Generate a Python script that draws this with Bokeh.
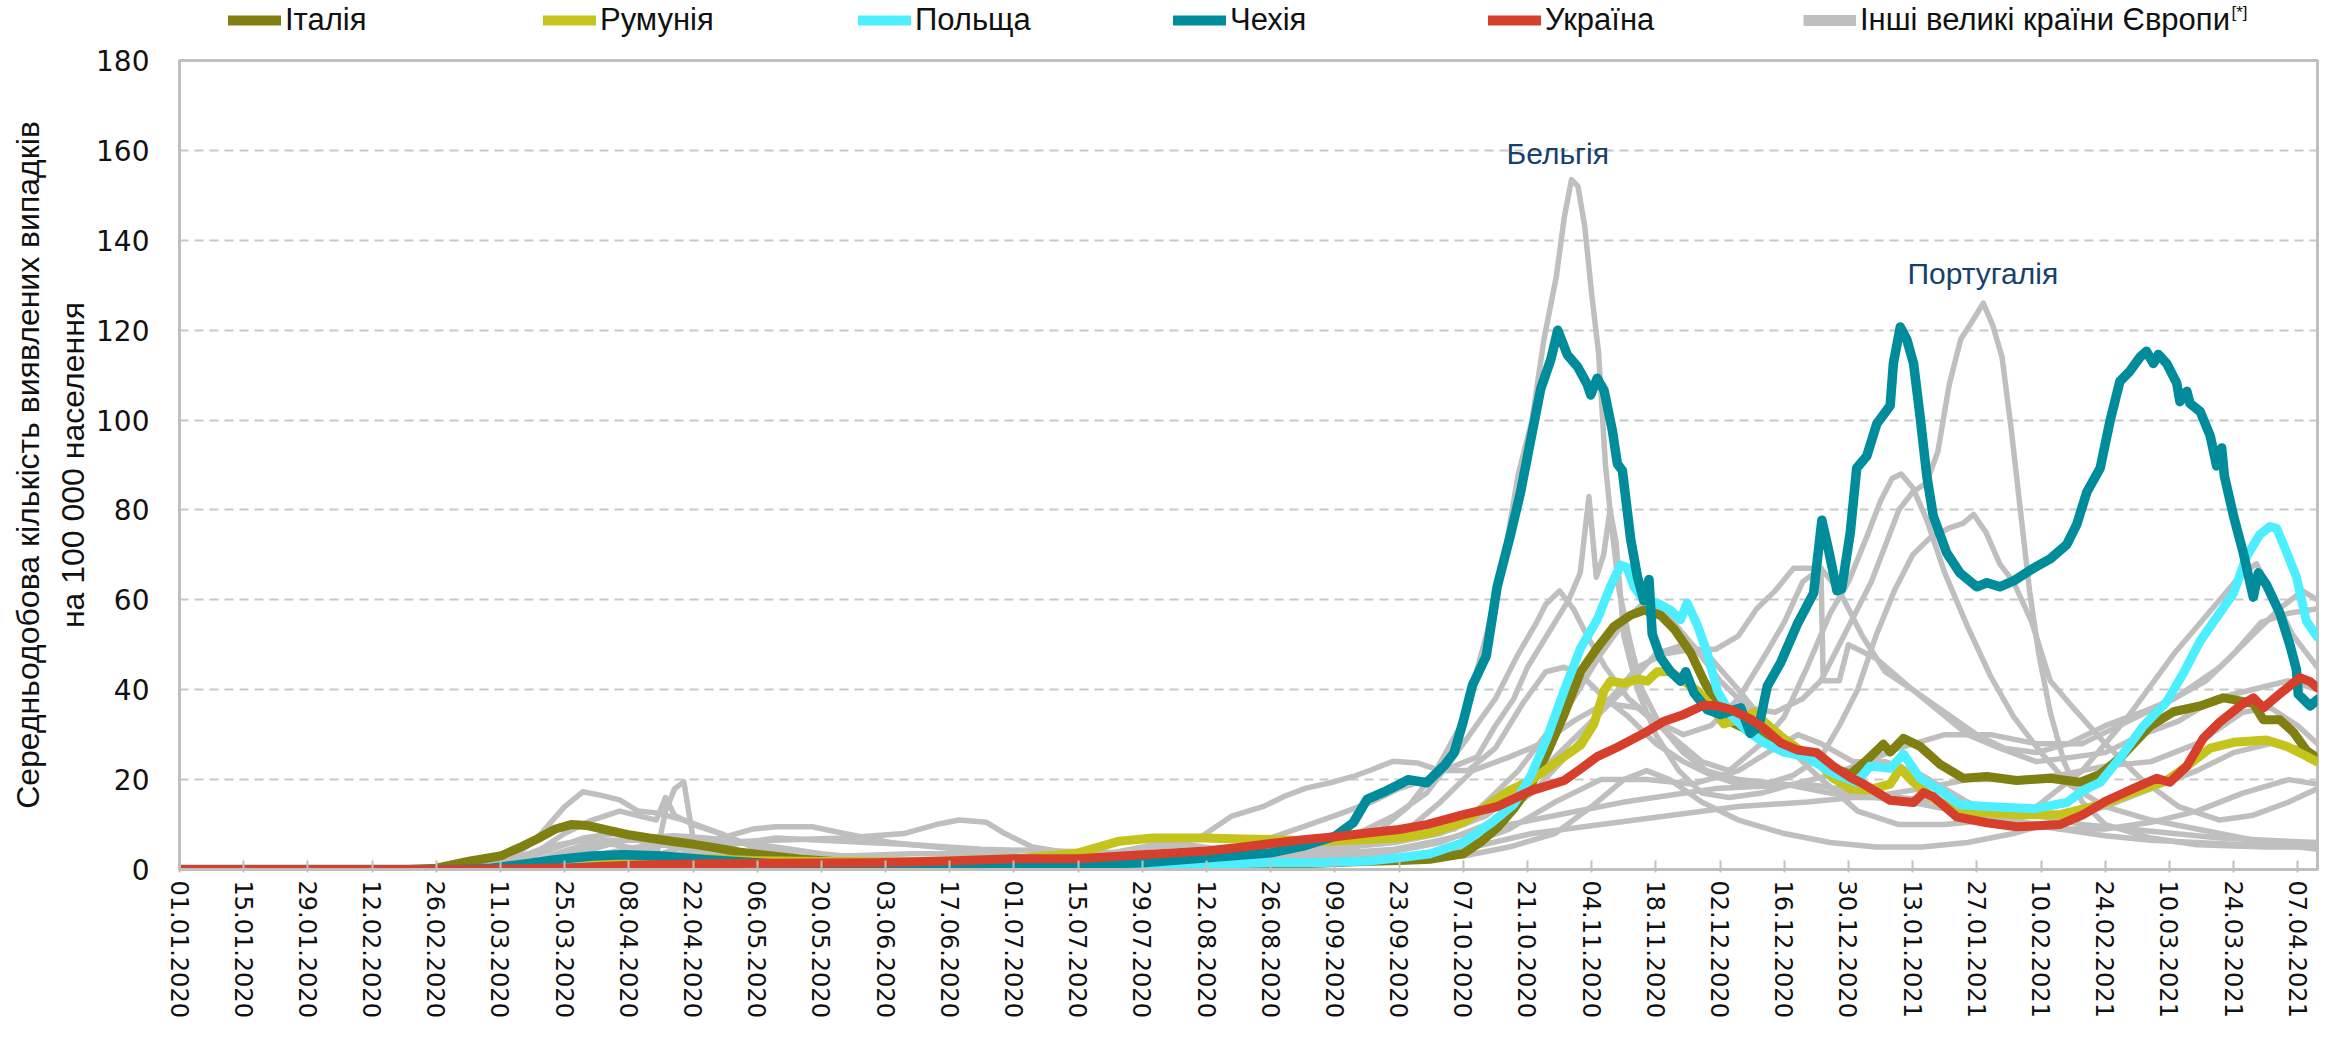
import numpy as np
import pandas as pd
from bokeh.plotting import figure
from bokeh.layouts import column
from bokeh.models import (ColumnDataSource, Range1d, FixedTicker, DatetimeTickFormatter,
                          Legend, LegendItem, Label)
from bokeh.embed import file_html
from bokeh.resources import INLINE

# ---------------- data (day = days since 01.01.2020) ----------------
START = pd.Timestamp("2020-01-01")
END_DAY = 466.3

tick_labels = ["01.01.2020", "15.01.2020", "29.01.2020", "12.02.2020", "26.02.2020", "11.03.2020",
               "25.03.2020", "08.04.2020", "22.04.2020", "06.05.2020", "20.05.2020", "03.06.2020",
               "17.06.2020", "01.07.2020", "15.07.2020", "29.07.2020", "12.08.2020", "26.08.2020",
               "09.09.2020", "23.09.2020", "07.10.2020", "21.10.2020", "04.11.2020", "18.11.2020",
               "02.12.2020", "16.12.2020", "30.12.2020", "13.01.2021", "27.01.2021", "10.02.2021",
               "24.02.2021", "10.03.2021", "24.03.2021", "07.04.2021"]
y_ticks = [0, 20, 40, 60, 80, 100, 120, 140, 160, 180]

italy_day = [0, 50, 56, 63.4, 70, 74, 78, 82, 85.4, 88.8, 92.7, 97.6, 102.4, 107.3, 112.2, 117, 122, 126.8,
             136.6, 146.3, 160, 180, 200, 215, 230, 245, 258, 266, 273, 280, 283.8, 287.4, 291, 294.7, 298.3,
             302, 305.6, 309.2, 312.8, 316.5, 319.4, 323, 326, 329.6, 332.5, 335.4, 338.3, 342.6, 345.6, 349.9,
             355, 360.7, 364.4, 368, 371.6, 373.1, 376, 379.6, 384, 389.1, 394.2, 400.7, 408, 414.5, 418.9,
             423.2, 429.8, 434.9, 440.7, 445.8, 448, 452.3, 454.5, 458.1, 461, 463.9, 466.3]
italy_val = [0, 0, 0.3, 1.9, 3, 4.8, 6.8, 9, 10, 9.8, 8.9, 7.8, 7, 6.3, 5.6, 4.8, 3.9, 3.3,
             2.2, 1.5, 0.8, 0.4, 0.3, 0.5, 0.9, 1.3, 1.8, 2.0, 2.3, 3.5, 6.1, 9.3, 13.5, 18.7, 26,
             34.5, 44, 49.3, 54, 56.6, 57.7, 56.6, 53.5, 48.2, 41.9, 36.6, 32.9, 30.8, 30.3, 28.2,
             25, 22.5, 21.2, 24.3, 27.9, 26.1, 29.2, 27.4, 23.4, 20.3, 20.7, 19.8, 20.3, 19.4, 21.2,
             24.8, 31.9, 35.1, 36.4, 38.2, 37.8, 36.9, 33.3, 33.3, 30.6, 26.5, 24.8]

romania_day = [0, 65, 75, 85, 95, 105, 112, 125, 140, 160, 182.3, 196, 205, 212.3, 223.2, 232.2, 238, 250.2,
               259.3, 266, 272.8, 280, 286.3, 289.9, 294.7, 298.3, 302, 305.6, 308.5, 310.7, 312.1, 315, 318,
               320.1, 322.3, 325.2, 328.1, 331, 334.7, 336.8, 340.5, 343.4, 345.6, 349.2, 353.5, 356.5, 360.4,
               364.4, 368, 373.1, 375.3, 378.2, 382.5, 387.6, 394.2, 400.7, 410.1, 418.9, 426.1, 433.4, 437.8,
               442.9, 448, 455.2, 459.6, 463.9, 466.3]
romania_val = [0, 0, 0.3, 0.8, 1.5, 2.3, 2.5, 2, 1.8, 1.7, 2.4, 3.7, 6.3, 7, 7, 6.8, 6.7, 6.3,
               6.7, 7, 8.1, 10.5, 15, 17.5, 19.8, 22.4, 25.1, 27.7, 32.4, 39.8, 41.9, 41.4, 42.4,
               41.9, 44, 44, 41.9, 39.8, 35.6, 32.4, 33.5, 35, 32.9, 29.7, 26.5, 25, 20.5,
               18, 17.6, 19, 22.5, 19.4, 15.8, 13.1, 12.6, 12.2, 12.2, 14.4, 17.1, 19.8, 23,
               27, 28.3, 28.8, 27.4, 25.2, 23.9]

poland_day = [0, 65, 75, 90, 110, 130, 150, 170, 190, 210, 238, 248, 259.3, 266, 272.8, 280, 286.3, 291,
              294.7, 298.3, 302, 305.6, 309.2, 312.1, 314.3, 315.7, 317.2, 319.4, 322.3, 325.2, 327.4, 328.8,
              331, 333.2, 335.4, 338.3, 341.9, 345.6, 349.9, 355, 360.4, 365.8, 368.7, 373.1, 376, 379.6, 384,
              388.3, 394.2, 404.3, 411.6, 415.2, 418.9, 423.2, 428.3, 433.4, 437, 440.7, 444.3, 448, 450.8,
              453.7, 455.9, 457.4, 459.6, 461.7, 463.9, 466.3]
poland_val = [0, 0, 0.2, 0.6, 0.9, 0.8, 0.6, 0.7, 0.5, 0.7, 1.5, 1.5, 1.9, 2.6, 3.5, 6, 10.5, 14.5,
              20.8, 29.3, 39.8, 49.3, 55.6, 63, 67.7, 67.2, 63, 59.8, 59.3, 57.7, 55.6, 59.3,
              54.5, 48.2, 39.8, 34.5, 30.8, 28.2, 26.1, 25, 21.5, 19.4, 23, 22.5, 25.7, 20.3, 17.6,
              14.4, 14, 13.5, 14.9, 17.6, 19.4, 24.8, 31.9, 37.3, 43.6, 50.8, 56.1, 61.5, 69.6,
              74.5, 76.3, 75.9, 70.5, 65.1, 55.2, 51.7]

czech_day = [0, 60, 68, 75, 82, 90, 97, 105, 115, 130, 150, 170, 185, 196, 210, 224, 238, 245, 252, 256,
             259, 263, 266, 268, 272, 276, 278, 280, 282, 285, 287.4, 290.3, 292.5, 294.7, 296.9, 299.1,
             300.6, 302.7, 304.9, 307, 307.8, 309.2, 310.7, 312.5, 313.6, 314.7, 316.5, 318, 319.4, 320.5,
             321.2, 323, 325.2, 327.4, 328.5, 330.3, 333.2, 336.1, 340.5, 342.6, 344.5, 346.3, 349.2, 352.8,
             356.4, 358.2, 359.6, 361.5, 362.5, 364.4, 365.8, 368, 370.2, 373.1, 373.8, 375.3, 376.7, 378.2,
             379.6, 381.1, 382.5, 385.4, 388.3, 392, 394.2, 397, 400, 404.3, 408, 411.6, 413.8, 416, 418.9,
             421.1, 423.2, 425.4, 427.6, 429, 430.5, 431.6, 433.4, 435.6, 436.3, 437.8, 438.5, 440.7, 442.9,
             444.3, 445.4, 446, 448, 450.1, 452.3, 453.4, 455.2, 458.1, 460.3, 461.7, 462.1, 464.7, 466.3]
czech_val = [0, 0, 0.3, 1.2, 2.2, 3, 3.3, 3, 2.2, 1.2, 0.7, 0.6, 0.8, 1.1, 1.5, 2.6, 3.7, 5.2, 7.4, 10.4,
             15.6, 17.4, 18.9, 20, 19.3, 23.3, 26, 33, 41, 47.5, 63, 74.5, 84, 95.6, 107, 113.5,
             120, 114.5, 111.9, 108, 105.6, 109.3, 106.6, 97.7, 90.3, 88.7, 73.5, 65, 59.8, 64.5,
             52.4, 47.2, 44, 41.9, 44, 39.3, 35.6, 34.5, 36, 30.3, 32, 40.8, 46, 54.5,
             61.5, 77.7, 71.4, 62, 62.4, 75, 89.3, 92, 99.2, 103.2, 112.6, 120.7, 118, 112.6,
             101, 87.5, 78.6, 70.5, 66, 62.9, 63.8, 62.9, 64.2, 67, 69.1, 72.3, 76.8, 84, 89.3,
             100, 108.6, 110.9, 114, 115.3, 112.6, 114.6, 112.6, 108.2, 104.1, 106.4, 103.7, 101.9, 96.5,
             89.8, 93.8, 87.5, 78.6, 70.5, 60.6, 66, 63.3, 57, 49.9, 44.5, 39, 36.4, 37.8]

ukraine_day = [0, 60, 70, 85, 100, 115, 130, 151.5, 168, 182, 196, 210, 224, 232, 238, 245.7, 252, 259, 266,
               272, 280, 287.4, 294.7, 302, 305.6, 309.2, 313.6, 319.4, 323.8, 328.1, 332.5, 335.4, 338.3,
               342.6, 345.6, 349.2, 352.8, 357.1, 360.7, 364.4, 367.3, 373.1, 378.2, 380.4, 382.5, 387.6,
               394.2, 400.7, 410.1, 415.2, 420.3, 426.1, 431.2, 434.1, 437.8, 441.4, 445, 449.4, 452.3,
               454.5, 458.1, 462.5, 464.7, 466.3]
ukraine_val = [0, 0, 0.1, 0.4, 1, 1.3, 1.4, 1.5, 1.9, 2.4, 2.4, 3.3, 4.1, 5, 5.8, 6.7, 7.3, 8.1, 8.9,
               10, 12.2, 14, 17.5, 19.8, 22.4, 25.1, 27.2, 30.3, 33, 34.5, 36.6, 36.4, 35.6,
               33.5, 31.4, 28.2, 26.6, 26, 23, 20.5, 19, 15.4, 14.9, 17.1, 16.2, 11.7,
               10.4, 9.5, 10, 12.2, 15.3, 18, 20.3, 19.4, 23, 29.2, 32.8, 36.4, 38.2,
               36, 39.1, 42.7, 41.8, 40.4]

# other large European countries (grey)
belgium_day = [0, 65, 72, 78, 84, 90, 96, 100, 104, 106, 108, 112, 118, 125, 135, 150, 165, 185, 200, 212,
               220, 230, 245, 255, 262, 268, 274, 280, 285, 289, 292, 295, 297.6, 300.3, 302, 303.6, 305,
               306.5, 308, 309.5, 311, 312.5, 314, 316.5, 319, 323, 328, 333, 340, 350, 360, 368, 380, 390,
               400, 410, 420, 430, 440, 450, 456, 462, 466.3]
belgium_val = [0, 0, 1, 4, 8, 11, 13, 12, 11, 16, 12, 10, 8, 5, 3, 1.5, 1, 1, 2.5, 5,
               5.5, 4, 4.5, 6, 9, 14, 22, 33, 52, 70, 88, 100, 118, 132, 145, 153.5, 152,
               143, 128, 115, 90, 75, 62, 50, 40, 32, 26, 22, 20, 19, 17, 16, 18, 20,
               20, 21, 23, 24, 28, 35, 36, 32, 28]

france_day = [0, 62, 70, 80, 88, 95, 102, 104, 106, 108, 110, 112, 118, 125, 135, 150, 170, 190, 205, 220,
              235, 245, 252, 260, 266, 272, 278, 283, 287, 291, 294, 297, 300, 303, 305.5, 307.4, 309, 310.6,
              312, 313.3, 315, 318, 322, 327, 332, 338, 345, 352, 360, 368, 375, 385, 395, 405, 415, 425,
              435, 445, 452, 458, 463, 466.3]
france_val = [0, 0, 0.5, 4, 7, 8, 6, 3, 13, 18, 19.5, 7, 5, 3, 1.5, 1, 0.6, 1, 1.5, 3,
              6, 9.5, 12, 15, 18, 20, 23, 25, 32, 38, 45, 50, 55, 60, 66, 83, 65, 70,
              80, 73, 52, 40, 30, 22, 17, 16, 17, 19, 21, 24, 27, 30, 30, 28, 28, 33,
              38, 45, 52, 58, 62, 60]

uk_day = [0, 65, 75, 85, 95, 100, 108, 115, 122, 130, 140, 155, 170, 190, 210, 225, 240, 252, 260, 268,
          275, 282, 290, 297, 304, 311, 318, 325, 332, 338, 345, 350, 355, 360, 364, 368, 371, 373.5, 375.5,
          378, 381, 385, 390, 395, 400, 406, 412, 420, 430, 440, 450, 458, 466.3]
uk_val = [0, 0, 0.5, 3, 6, 7, 7.5, 7, 6, 5, 3.5, 2, 1.3, 1, 1.2, 1.5, 2.2, 4, 6, 9,
          15, 22, 25, 28, 33, 37, 36, 30, 24, 22, 28, 34, 45, 57, 64, 74, 82, 87, 88,
          85, 78, 66, 54, 43, 34, 26, 19, 14, 11, 9, 7, 5.5, 4.5]

portugal_day = [0, 70, 78, 85, 92, 100, 108, 118, 130, 145, 160, 175, 190, 205, 225, 240, 252, 262, 270,
                278, 285, 292, 298, 304, 310, 315, 320, 325, 330, 336, 342, 348, 354, 358, 362, 366, 369,
                372, 375, 378, 381, 383.5, 386, 388.5, 391, 393.4, 395.5, 397.5, 399.5, 401.5, 403.5,
                405.5, 408, 411, 415, 420, 430, 440, 455, 466.3]
portugal_val = [0, 0, 1, 4, 6, 7, 6, 3.5, 2.5, 3, 3.5, 3.5, 2.5, 1.8, 2, 3, 5, 6.5, 7.5,
                9, 15, 22, 30, 38, 48, 55, 60, 56, 50, 42, 36, 35, 38, 42, 50, 58, 64,
                72, 80, 84, 86, 93, 108, 118, 122, 126, 121, 114, 98, 80, 62,
                48, 35, 24, 15, 10, 7, 5.5, 5, 5]

spain_day = [0, 62, 72, 78, 84, 88, 92, 96, 100, 104, 110, 118, 125, 135, 150, 170, 185, 195, 205, 215,
             223, 229.5, 236.6, 241, 245.7, 251, 256, 260, 264.7, 270, 275, 281, 287, 293, 298, 302, 306,
             311, 316, 322, 328, 334, 340, 346, 352, 358, 362, 366, 370, 374, 378, 382, 386, 389, 391.3,
             394, 397, 400, 404, 408, 413, 420, 428, 436, 445, 452, 460, 466.3]
spain_val = [0, 0, 2, 7, 14, 17.3, 16.5, 15.5, 13, 12.6, 11, 8, 5, 2.5, 1, 0.7, 1, 2, 4, 6,
             7.4, 11.9, 14.1, 16.3, 18.1, 19.3, 20.7, 22.2, 24.1, 23.7, 22, 22, 27, 37, 44, 45, 43,
             38, 34, 28, 24, 21, 19, 19, 21, 25, 32, 40, 52, 62, 70, 74, 76, 77, 79,
             75, 68, 64, 55, 42, 36, 28, 20, 14, 11, 12, 15, 18]

netherlands_day = [0, 70, 78, 85, 92, 100, 108, 120, 135, 160, 190, 210, 225, 240, 255, 265, 272, 280, 287,
                   292, 296, 298, 301, 304, 307, 311, 316, 322, 328, 334, 340, 346, 350, 354, 358, 362, 367,
                   372, 378, 384, 390, 397, 405, 413, 420, 428, 436, 444, 452, 460, 466.3]
netherlands_val = [0, 0, 2, 4.5, 6.5, 6.5, 5, 3, 1.5, 0.5, 0.7, 2, 3.5, 3, 7, 12, 17, 28, 38,
                   48, 55, 59, 62, 58, 52, 45, 38, 33, 30, 32, 38, 48, 55, 64, 67, 62, 52,
                   44, 40, 35, 30, 27, 24, 25, 26, 30, 33, 38, 40, 42, 40]

sweden_day = [0, 70, 85, 100, 115, 130, 145, 158, 165, 170, 176, 180, 186, 195, 210, 230, 250, 262, 275,
              285, 295, 305, 312, 318, 324, 330, 335, 340, 344, 348, 352, 358, 358.5, 362, 364, 370, 378,
              385, 392, 398, 405, 412, 420, 428, 435, 442, 448, 454, 460, 466.3]
sweden_val = [0, 0, 2, 5, 6, 6.5, 7, 8, 10, 11, 10.5, 8, 5, 3.5, 2.5, 2, 2.5, 3.5, 6,
              10, 17, 28, 38, 45, 48, 49, 49, 52, 58, 62, 67, 67, 42, 42, 50, 47, 40,
              35, 30, 27, 26, 28, 32, 35, 38, 42, 48, 55, 57, 58]

hungary_day = [0, 75, 90, 105, 130, 160, 200, 230, 245, 255, 265, 275, 285, 295, 305, 315, 322, 328, 334,
               340, 348, 356, 366, 375, 385, 395, 405, 415, 425, 435, 445, 450, 453, 457, 461, 466.3]
hungary_val = [0, 0, 0.4, 0.6, 0.4, 0.2, 0.3, 1, 3, 5, 6, 8, 12, 20, 30, 40, 48, 50, 47,
               40, 30, 22, 13, 10, 10, 11, 14, 22, 34, 48, 60, 66, 68, 60, 52, 45]

germany_day = [0, 62, 72, 80, 88, 95, 105, 115, 130, 160, 190, 220, 245, 265, 278, 290, 300, 310, 320, 330,
               340, 348, 353, 358, 365, 372, 380, 390, 400, 410, 420, 430, 440, 450, 460, 466.3]
germany_val = [0, 0, 2, 5, 6.5, 5.5, 3.5, 2, 1, 0.4, 0.5, 1.2, 1.6, 2.5, 4.5, 9, 15, 20, 20, 19,
               22, 27, 30, 28, 24, 24, 21, 15, 11, 9, 9, 10.5, 13, 17, 20, 19]

greece_day = [0, 80, 100, 150, 200, 220, 240, 260, 280, 290, 300, 308, 315, 320, 325, 332, 340, 350, 360,
              370, 380, 390, 400, 410, 420, 430, 440, 448, 456, 462, 466.3]
greece_val = [0, 0, 0.2, 0.1, 0.3, 1.5, 2, 2.5, 3, 5, 8, 14, 20, 22, 20, 15, 11, 8, 6,
              5, 5, 6, 8, 11, 14, 18, 22, 26, 28, 27, 25]

russia_day = [0, 80, 90, 100, 110, 120, 130, 140, 150, 160, 175, 195, 215, 235, 255, 265, 275, 285, 295,
              305, 315, 325, 335, 345, 355, 362, 370, 380, 390, 400, 410, 420, 430, 440, 450, 466.3]
russia_val = [0, 0, 0.5, 1.5, 3.5, 5.5, 7, 6.5, 6, 5.5, 4.5, 4, 3.5, 3.4, 3.8, 4.5, 6.5, 9, 11,
              13, 15, 16.5, 18, 18.5, 19, 18, 16, 14.5, 12.5, 10.5, 9, 7.5, 6.5, 6, 5.5, 5.5]

belarus_day = [0, 80, 90, 100, 110, 118, 125, 130, 138, 145, 155, 165, 175, 190, 210, 230, 250, 265, 280,
               295, 310, 325, 340, 355, 365, 375, 385, 395, 405, 415, 425, 435, 445, 455, 466.3]
belarus_val = [0, 0, 0.5, 2, 5, 7, 9, 9.5, 9.5, 8, 6, 5, 4, 2, 1.3, 1, 1.5, 2.5, 4.5,
               8, 10, 12, 14, 15, 16, 16, 15, 14, 12, 10, 9, 8, 7, 6.5, 6]

series_names = ["Італія", "Румунія", "Польща", "Чехія", "Україна"]
series_colors = ["#808012", "#C4C41C", "#4DEEFF", "#008C9A", "#D63F2C"]
others_name = "Інші великі країни Європи"
others_note = "[*]"
note_belgium = "Бельгія"
note_portugal = "Португалія"

# ---------------- helpers ----------------
EPOCH = pd.Timestamp("1970-01-01")


def to_dates(days):
    return START + pd.to_timedelta(np.asarray(days, dtype=float), unit="D")


def to_ms(ts):
    return (ts - EPOCH).total_seconds() * 1000.0


tick_dates = pd.to_datetime(tick_labels, format="%d.%m.%Y")
tick_ms = [to_ms(t) for t in tick_dates]

FONT = "Liberation Sans"
TICKFONT = "DejaVu Sans"
GREY = "#BFBFBF"
W = 2338
HEADER_H = 40

# ---------------- header (legend strip; its frame is aligned with the plot frame) ----------------
hdr = figure(width=W, height=HEADER_H, x_axis_type=None, y_axis_type=None,
             x_range=Range1d(0, 1), y_range=Range1d(0, 1),
             output_backend="svg", toolbar_location=None,
             min_border_left=179, min_border_right=21, min_border_top=0, min_border_bottom=0)
hdr.outline_line_color = None
hdr.background_fill_color = "white"
hdr.border_fill_color = "white"

nan_src = dict(x=[np.nan], y=[np.nan])
leg_renderers = []
for col in series_colors:
    leg_renderers.append(hdr.line(x="x", y="y", source=ColumnDataSource(dict(nan_src)),
                                  line_color=col, line_width=10, line_cap="round"))
leg_renderers.append(hdr.line(x="x", y="y", source=ColumnDataSource(dict(nan_src)),
                              line_color=GREY, line_width=11, line_cap="butt"))

items = [LegendItem(label=lab, renderers=[r]) for lab, r in
         zip(series_names + [others_name], leg_renderers)]
legend = Legend(items=items, location=(49, 2), orientation="horizontal",
                glyph_width=53, glyph_height=30, label_height=30, label_width=258,
                label_standoff=4, padding=0, margin=0, spacing=0,
                border_line_alpha=0, background_fill_alpha=0,
                label_text_font=FONT, label_text_font_size="31px", label_text_color="#111111")
hdr.add_layout(legend)
hdr.add_layout(Label(x=2052, y=28, x_units="screen", y_units="screen", text=others_note,
                     text_baseline="middle", text_align="left",
                     text_font=FONT, text_font_size="17px", text_color="#111111"))

# ---------------- main plot ----------------
p = figure(width=W, height=1052 - HEADER_H, x_axis_type="datetime",
           x_range=Range1d(to_ms(START), to_ms(START + pd.Timedelta(days=END_DAY))),
           y_range=Range1d(0, 180),
           output_backend="svg", toolbar_location=None,
           min_border_left=179, min_border_right=21, min_border_top=20, min_border_bottom=183)
p.background_fill_color = "white"
p.border_fill_color = "white"
p.outline_line_color = GREY
p.outline_line_width = 3

p.xgrid.visible = False
p.ygrid.ticker = FixedTicker(ticks=y_ticks)
p.ygrid.grid_line_color = "#C8C8C8"
p.ygrid.grid_line_dash = "9 6"
p.ygrid.grid_line_width = 2

p.yaxis.ticker = FixedTicker(ticks=y_ticks)
p.yaxis.axis_line_color = GREY
p.yaxis.axis_line_width = 3
p.yaxis.major_tick_line_color = None
p.yaxis.minor_tick_line_color = None
p.yaxis.major_label_text_font = TICKFONT
p.yaxis.major_label_text_font_size = "28px"
p.yaxis.major_label_text_color = "#111111"
p.yaxis.major_label_standoff = 24
p.yaxis.axis_label = "Середньодобова кількість виявлених випадків\nна 100 000 населення"
p.yaxis.axis_label_text_font = FONT
p.yaxis.axis_label_text_font_size = "32px"
p.yaxis.axis_label_text_font_style = "normal"
p.yaxis.axis_label_text_color = "#111111"
p.yaxis.axis_label_text_line_height = 1.25
p.yaxis.axis_label_standoff = 2

p.xaxis.ticker = FixedTicker(ticks=tick_ms)
fmt = "%d.%m.%Y"
p.xaxis.formatter = DatetimeTickFormatter(days=fmt, months=fmt, years=fmt, hours=fmt, hourmin=fmt,
                                          minutes=fmt, minsec=fmt, seconds=fmt, milliseconds=fmt,
                                          microseconds=fmt)
p.xaxis.major_label_orientation = "vertical"
p.xaxis.axis_line_color = GREY
p.xaxis.axis_line_width = 3
p.xaxis.major_tick_line_color = GREY
p.xaxis.major_tick_line_width = 2
p.xaxis.major_tick_in = 9
p.xaxis.major_tick_out = 3
p.xaxis.minor_tick_line_color = None
p.xaxis.major_label_text_font = TICKFONT
p.xaxis.major_label_text_font_size = "24px"
p.xaxis.major_label_text_color = "#111111"
p.xaxis.major_label_standoff = 8


def draw(days, vals, color, width):
    src = ColumnDataSource(dict(x=to_dates(days), y=vals))
    return p.line("x", "y", source=src, line_color=color, line_width=width,
                  line_join="round", line_cap="round")


grey_sets = [(belgium_day, belgium_val), (portugal_day, portugal_val), (uk_day, uk_val),
             (spain_day, spain_val), (france_day, france_val), (netherlands_day, netherlands_val),
             (sweden_day, sweden_val), (hungary_day, hungary_val), (germany_day, germany_val),
             (greece_day, greece_val), (russia_day, russia_val), (belarus_day, belarus_val)]
for d, v in grey_sets:
    draw(d, v, GREY, 5.5)

main_sets = [(italy_day, italy_val), (romania_day, romania_val), (poland_day, poland_val),
             (czech_day, czech_val), (ukraine_day, ukraine_val)]
for (d, v), col in zip(main_sets, series_colors):
    draw(d, v, col, 9.5 if col == "#008C9A" else 9)

for txt, d, v in [(note_belgium, 300.6, 159.2), (note_portugal, 393.3, 132.6)]:
    p.add_layout(Label(x=to_ms(START + pd.Timedelta(days=d)), y=v, text=txt,
                       text_align="center", text_baseline="middle",
                       text_font=FONT, text_font_size="30px", text_color="#17406D"))

layout = column(hdr, p, spacing=0)
open("out.html", "w").write(file_html(layout, INLINE))
